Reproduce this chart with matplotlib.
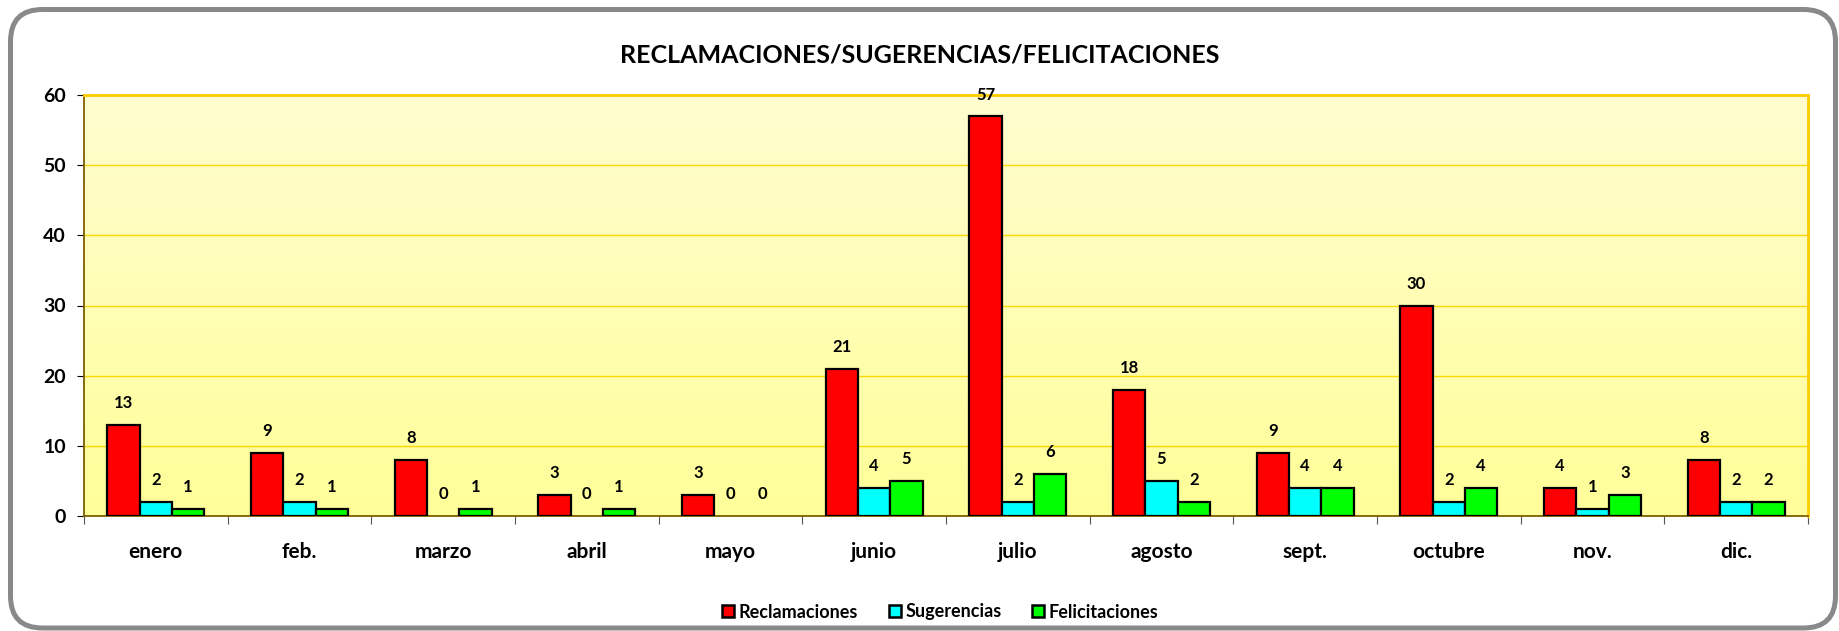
import matplotlib
matplotlib.use("Agg")
import matplotlib.pyplot as plt
import numpy as np
from matplotlib.patches import FancyBboxPatch, Patch
from matplotlib.colors import LinearSegmentedColormap

plt.rcParams['font.family'] = ['Lato', 'DejaVu Sans']
plt.rcParams['font.weight'] = 'bold'

months = ['enero', 'feb.', 'marzo', 'abril', 'mayo', 'junio', 'julio',
          'agosto', 'sept.', 'octubre', 'nov.', 'dic.']
reclamaciones = [13, 9, 8, 3, 3, 21, 57, 18, 9, 30, 4, 8]
sugerencias = [2, 2, 0, 0, 0, 4, 2, 5, 4, 2, 1, 2]
felicitaciones = [1, 1, 1, 1, 0, 5, 6, 2, 4, 4, 3, 2]
series_names = ['Reclamaciones', 'Sugerencias', 'Felicitaciones']
colors = ['#FF0000', '#00FFFF', '#00FF00']

fig = plt.figure(figsize=(18.4, 6.31), dpi=100)
ax = fig.add_axes([84 / 1840, 1 - 516 / 631, (1808 - 84) / 1840, (516 - 95) / 631])

# rounded grey frame around the whole chart
frame = FancyBboxPatch((0.105, 0.03), 18.25, 6.185,
                       boxstyle="round,pad=0,rounding_size=0.32",
                       transform=fig.dpi_scale_trans, facecolor='none',
                       edgecolor='#898989', linewidth=3.6, zorder=10)
fig.patches.append(frame)

# yellow gradient background
cmap = LinearSegmentedColormap.from_list('yel', ['#FFFF99', '#FFFDD0'])
grad = np.linspace(0, 1, 256).reshape(-1, 1)
ax.imshow(grad, cmap=cmap, origin='lower', aspect='auto',
          extent=[-0.5, 11.5, 0, 60], zorder=0)

x = np.arange(len(months))
w = 0.225
data = [reclamaciones, sugerencias, felicitaciones]
for i, (vals, c) in enumerate(zip(data, colors)):
    pos = x + (i - 1) * w
    lws = [1.6 if v > 0 else 0 for v in vals]
    ax.bar(pos, vals, w, color=c, edgecolor='black', linewidth=lws, zorder=3)
    for px, v in zip(pos, vals):
        ax.annotate(str(v), (px, v), xytext=(0, 15.5), textcoords='offset points',
                    ha='center', va='center', fontsize=12, fontweight='bold')

ax.set_xlim(-0.5, 11.5)
ax.set_ylim(0, 60)
ax.set_yticks(range(0, 61, 10))
ax.tick_params(axis='y', labelsize=14, length=5, direction='out', pad=8)
ax.yaxis.grid(True, color='#FFD700', linewidth=1, zorder=1)
ax.set_axisbelow(True)

ax.set_xticks(np.arange(-0.5, 12, 1))
ax.set_xticklabels([])
ax.set_xticks(x, minor=True)
ax.set_xticklabels(months, minor=True)
ax.tick_params(axis='x', which='major', length=6, direction='out', color='#555555')
ax.tick_params(axis='x', which='minor', length=0, labelsize=15, pad=19)

for s in ['top', 'right']:
    ax.spines[s].set_color('#FFCC00')
    ax.spines[s].set_linewidth(2)
for s in ['left', 'bottom']:
    ax.spines[s].set_color('#7F6000')
    ax.spines[s].set_linewidth(1.3)

fig.text(0.5, 1 - 55 / 631, 'RECLAMACIONES/SUGERENCIAS/FELICITACIONES',
         ha='center', va='center', fontsize=18, fontweight='bold')

handles = [Patch(facecolor=c, edgecolor='black', linewidth=1.8) for c in colors]
fig.legend(handles, series_names, loc='center', bbox_to_anchor=(0.511, 1 - 612 / 631),
           ncol=3, frameon=False, fontsize=13, handlelength=0.65, handleheight=0.65,
           handletextpad=0.25, columnspacing=1.7)

fig.savefig('out.png', dpi=100)
